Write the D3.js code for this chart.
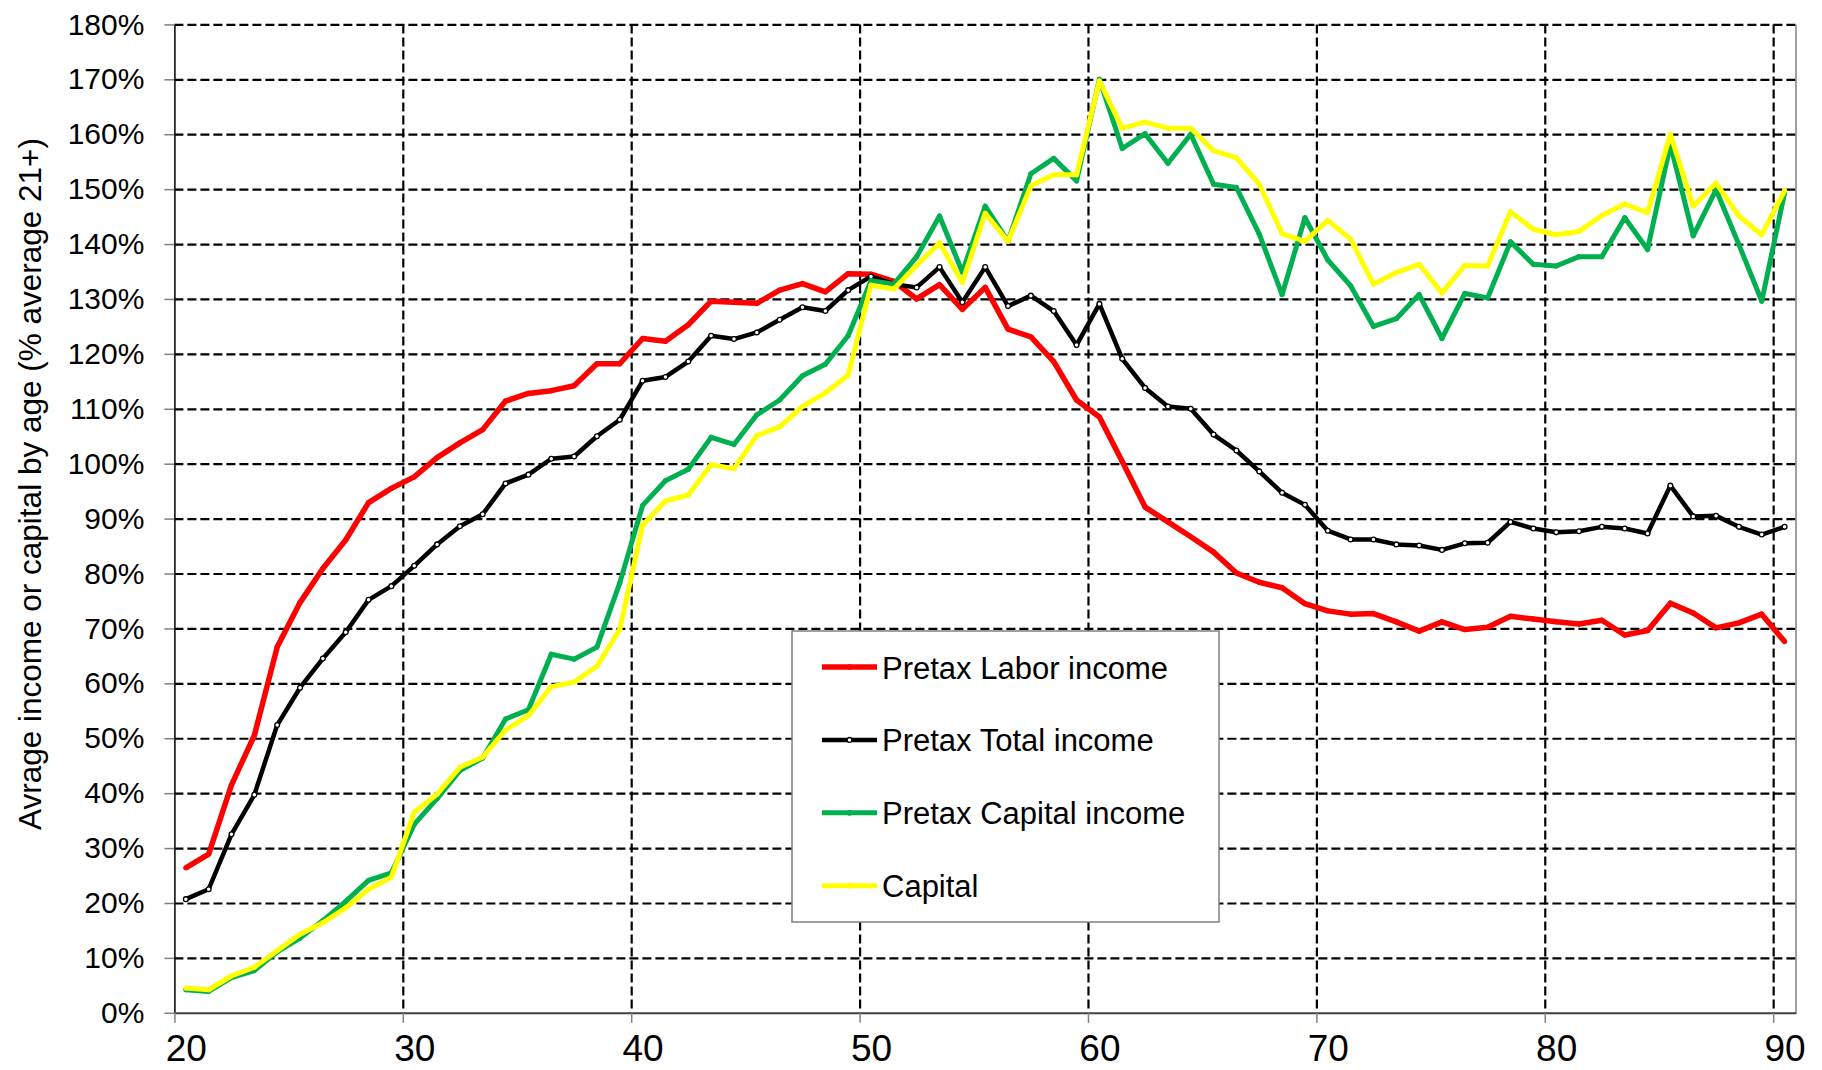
<!DOCTYPE html>
<html>
<head>
<meta charset="utf-8">
<script src="https://cdn.jsdelivr.net/npm/d3@7"></script>
<style>
  body { margin: 0; background: #fff; }
  text { font-family: "Liberation Sans", Arial, sans-serif; fill: #000; }
</style>
</head>
<body>
<div class="chart"></div>
<script>
// ages (one point per year, drawn at mid-year)
var ages = [20, 21, 22, 23, 24, 25, 26, 27, 28, 29,
    30, 31, 32, 33, 34, 35, 36, 37, 38, 39,
    40, 41, 42, 43, 44, 45, 46, 47, 48, 49,
    50, 51, 52, 53, 54, 55, 56, 57, 58, 59,
    60, 61, 62, 63, 64, 65, 66, 67, 68, 69,
    70, 71, 72, 73, 74, 75, 76, 77, 78, 79,
    80, 81, 82, 83, 84, 85, 86, 87, 88, 89, 90];

// values in % of the 21+ average
var laborIncome = [26.4, 28.9, 41.5, 50.5, 66.6, 74.7, 80.9, 86.1, 92.9, 95.5,
    97.6, 101.1, 103.8, 106.2, 111.4, 112.8, 113.3, 114.2, 118.2, 118.2,
    122.8, 122.3, 125.3, 129.6, 129.4, 129.2, 131.6, 132.8, 131.3, 134.6,
    134.5, 133.2, 130.0, 132.6, 128.1, 132.1, 124.5, 123.1, 118.6, 111.6,
    108.5, 100.4, 92.1, 89.4, 86.7, 83.9, 80.1, 78.4, 77.4, 74.5,
    73.2, 72.6, 72.7, 71.2, 69.5, 71.2, 69.8, 70.2, 72.2, 71.7,
    71.2, 70.8, 71.5, 68.8, 69.6, 74.6, 72.8, 70.1, 71.0, 72.6, 67.6];

var totalIncome = [20.7, 22.5, 32.5, 39.7, 52.4, 59.2, 64.5, 69.3, 75.2, 77.7,
    81.4, 85.3, 88.6, 90.8, 96.4, 98.0, 100.9, 101.3, 105.0, 108.0,
    115.1, 115.8, 118.6, 123.3, 122.7, 123.9, 126.2, 128.5, 127.8, 131.6,
    134.1, 132.7, 132.1, 135.8, 129.4, 135.8, 128.7, 130.6, 127.8, 121.6,
    129.1, 119.1, 113.8, 110.4, 110.0, 105.3, 102.4, 98.6, 94.7, 92.5,
    87.8, 86.2, 86.2, 85.3, 85.1, 84.3, 85.5, 85.6, 89.4, 88.2,
    87.5, 87.7, 88.5, 88.2, 87.3, 96.0, 90.4, 90.5, 88.5, 87.1, 88.5];

var capitalIncome = [4.2, 3.9, 6.4, 7.7, 11.1, 13.6, 16.8, 20.3, 24.1, 25.5,
    34.3, 39.0, 44.1, 46.4, 53.5, 55.2, 65.3, 64.4, 66.6, 78.3,
    92.4, 96.9, 99.0, 104.8, 103.5, 108.9, 111.6, 116.0, 118.1, 123.3,
    133.3, 132.7, 137.7, 145.1, 134.9, 146.9, 140.5, 152.8, 155.6, 151.5,
    170.0, 157.4, 160.1, 154.7, 160.0, 150.9, 150.3, 141.8, 130.8, 144.8,
    137.1, 132.4, 125.0, 126.4, 130.8, 122.8, 131.0, 130.2, 140.4, 136.3,
    136.0, 137.7, 137.7, 144.8, 139.0, 158.1, 141.5, 149.9, 139.9, 129.6, 149.3];

var capital = [4.5, 4.2, 6.7, 8.3, 11.3, 14.3, 16.4, 19.1, 22.5, 24.7,
    36.5, 39.8, 44.7, 46.6, 51.5, 54.1, 59.4, 60.2, 63.1, 69.8,
    88.8, 93.2, 94.3, 99.8, 99.1, 105.1, 106.7, 110.4, 112.9, 116.1,
    132.5, 131.8, 136.1, 140.2, 133.0, 145.6, 140.5, 150.6, 152.6, 152.6,
    169.7, 161.1, 162.2, 161.1, 161.1, 157.0, 155.7, 150.9, 141.9, 140.5,
    144.3, 140.9, 132.7, 134.8, 136.3, 131.1, 136.1, 136.0, 145.9, 142.7,
    141.7, 142.3, 145.2, 147.3, 145.7, 160.0, 146.9, 151.1, 145.1, 141.7, 149.7];

var seriesNames = ["Pretax Labor income", "Pretax Total income", "Pretax Capital income", "Capital"];
var seriesValues = [laborIncome, totalIncome, capitalIncome, capital];
var seriesColors = ["#ff0000", "#000000", "#00b050", "#ffff00"];
var seriesWidths = [5.5, 4.5, 5, 5];

var xTicks = [20, 30, 40, 50, 60, 70, 80, 90];
var yTicks = [0, 10, 20, 30, 40, 50, 60, 70, 80, 90, 100, 110, 120, 130, 140, 150, 160, 170, 180];

var svgWidth = 1822;
var svgHeight = 1070;

var margin = {
    top: 24.4,
    right: 26,
    bottom: 57.2,
    left: 174.4
};

var width = svgWidth - margin.left - margin.right;
var height = svgHeight - margin.top - margin.bottom;

var svg = d3
    .select(".chart")
    .append("svg")
    .attr("width", svgWidth)
    .attr("height", svgHeight)
    .style("display", "block");

svg.append("rect")
    .attr("width", svgWidth)
    .attr("height", svgHeight)
    .attr("fill", "#fff");

var chartGroup = svg.append("g")
    .attr("transform", `translate(${margin.left}, ${margin.top})`);

var xLinearScale = d3.scaleLinear()
    .domain([20, 91])
    .range([0, width]);

var yLinearScale = d3.scaleLinear()
    .domain([0, 180])
    .range([height, 0]);

var halfYear = xLinearScale(20.5) - xLinearScale(20);

// dashed grid
chartGroup.append("g")
    .attr("class", "grid")
    .call(d3.axisLeft(yLinearScale).tickValues(yTicks.slice(1)).tickSize(-width).tickFormat(""))
    .call(g => g.select(".domain").remove());

chartGroup.append("g")
    .attr("class", "grid")
    .attr("transform", `translate(0, ${height})`)
    .call(d3.axisBottom(xLinearScale).tickValues(xTicks.slice(1)).tickSize(height).tickSizeOuter(0).tickFormat(""))
    .call(g => g.select(".domain").remove())
    .selectAll("line")
    .attr("transform", `translate(0, ${-height})`);

chartGroup.selectAll(".grid line")
    .attr("stroke", "#000")
    .attr("stroke-width", 2.2)
    .attr("stroke-dasharray", "9,4");

// right border
chartGroup.append("line")
    .attr("x1", width)
    .attr("x2", width)
    .attr("y1", 0)
    .attr("y2", height)
    .attr("stroke", "#808080")
    .attr("stroke-width", 1.5);

// axes
var leftAxis = d3.axisLeft(yLinearScale)
    .tickValues(yTicks)
    .tickFormat(d => d + "%")
    .tickSize(10)
    .tickSizeOuter(0)
    .tickPadding(20);

var yAxis = chartGroup.append("g")
    .call(leftAxis);
yAxis.select(".domain").attr("stroke", "#000").attr("stroke-width", 1.5);
yAxis.selectAll(".tick line").attr("stroke", "#808080").attr("stroke-width", 1.5);
yAxis.selectAll("text")
    .style("font-size", "30px")
    .attr("fill", "#000");

var bottomAxis = d3.axisBottom(xLinearScale)
    .tickValues(xTicks)
    .tickSize(10)
    .tickSizeOuter(0)
    .tickPadding(12);

var xAxis = chartGroup.append("g")
    .attr("transform", `translate(0, ${height})`)
    .call(bottomAxis);
xAxis.select(".domain").attr("stroke", "#404040").attr("stroke-width", 2);
xAxis.selectAll(".tick line").attr("stroke", "#808080").attr("stroke-width", 1.5);
xAxis.selectAll("text")
    .attr("x", halfYear)
    .style("font-size", "37px")
    .attr("fill", "#000");

// y axis title
chartGroup.append("text")
    .attr("transform", "rotate(-90)")
    .attr("x", -(484 - margin.top))
    .attr("y", 41 - margin.left)
    .attr("text-anchor", "middle")
    .style("font-size", "31.5px")
    .text("Avrage income or capital by age (% average 21+)");

// lines
var line = d3.line()
    .x((d, i) => xLinearScale(ages[i] + 0.5))
    .y(d => yLinearScale(d));

seriesValues.forEach(function(values, s) {
    chartGroup.append("path")
        .datum(values)
        .attr("fill", "none")
        .attr("stroke", seriesColors[s])
        .attr("stroke-width", seriesWidths[s])
        .attr("stroke-linejoin", "round")
        .attr("d", line);

    chartGroup.selectAll(".marker" + s)
        .data(values)
        .enter()
        .append("circle")
        .attr("class", "marker" + s)
        .attr("cx", (d, i) => xLinearScale(ages[i] + 0.5))
        .attr("cy", d => yLinearScale(d))
        .attr("r", s === 1 ? 2.4 : 2.2)
        .attr("fill", s === 1 ? "#fff" : seriesColors[s])
        .attr("stroke", seriesColors[s])
        .attr("stroke-width", s === 1 ? 1.3 : 1);
});

// legend
var legendGroup = svg.append("g")
    .attr("transform", "translate(792, 631)");

legendGroup.append("rect")
    .attr("width", 427)
    .attr("height", 291)
    .attr("fill", "#fff")
    .attr("stroke", "#808080")
    .attr("stroke-width", 1.5);

var legendItems = legendGroup.selectAll(".legend-item")
    .data(seriesNames)
    .enter()
    .append("g")
    .attr("class", "legend-item")
    .attr("transform", (d, i) => `translate(0, ${36 + i * 72.9})`);

legendItems.append("line")
    .attr("x1", 30)
    .attr("x2", 85)
    .attr("stroke", (d, i) => seriesColors[i])
    .attr("stroke-width", (d, i) => seriesWidths[i]);

legendItems.append("circle")
    .attr("cx", 57.5)
    .attr("r", (d, i) => i === 1 ? 2.4 : 2.2)
    .attr("fill", (d, i) => i === 1 ? "#fff" : seriesColors[i])
    .attr("stroke", (d, i) => seriesColors[i])
    .attr("stroke-width", 1.3);

legendItems.append("text")
    .attr("x", 90)
    .attr("y", 11.5)
    .style("font-size", "31px")
    .text(d => d);
</script>
</body>
</html>
